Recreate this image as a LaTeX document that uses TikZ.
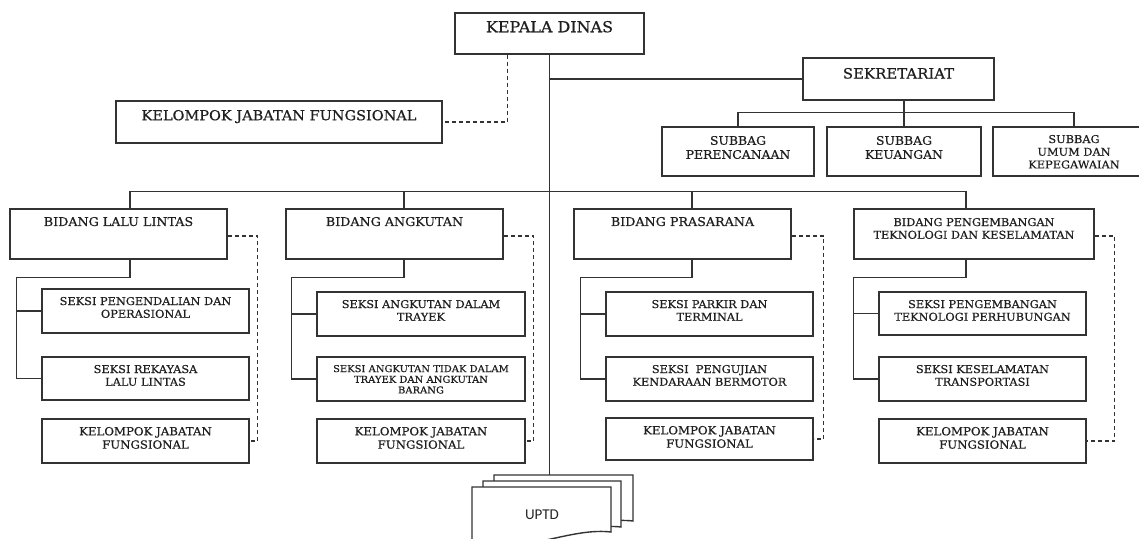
\documentclass[tikz,border=0pt]{standalone}
\usepackage{fontspec}
\setmainfont{DejaVu Serif}[FakeStretch=1.05, RawFeature={embolden=0.6}]
\newfontfamily\uptdfont{Carlito}

\begin{document}
\begin{tikzpicture}[x=1pt, y=-1pt, line width=1.4pt, draw=black!80,
	box/.style = {draw, rectangle, inner sep=0pt},
	lbl/.style = {anchor=north, inner sep=0pt, align=center, text=black!88},
	thd/.style = {font=\fontsize{15.2}{18}\selectfont},
	tbig/.style = {font=\fontsize{13.8}{17}\selectfont},
	tsek/.style = {font=\fontsize{14.2}{17}\selectfont},
	tmid/.style = {font=\fontsize{12.1}{14}\selectfont},
	tsub/.style = {font=\fontsize{11.8}{14}\selectfont},
	tsml/.style = {font=\fontsize{10.8}{12.7}\selectfont},
	tkjf/.style = {font=\fontsize{11.2}{13.3}\selectfont},
	ttny/.style = {font=\fontsize{9.5}{10.7}\selectfont},
	fnline/.style = {line width=1.1pt, dash pattern=on 4pt off 3pt}]

	\useasboundingbox (0,0) rectangle (1139,538);

	% pimpinan dan sekretariat
	\node[box, minimum width=189pt, minimum height=41pt,
	  label={[lbl, thd, yshift=-8pt]north:KEPALA DINAS}] (kd) at (549.5,33.5) {};
	\node[box, minimum width=326pt, minimum height=42pt,
	  label={[lbl, tbig, yshift=-9pt]north:KELOMPOK JABATAN FUNGSIONAL}] (kjf) at (279,122) {};
	\node[box, minimum width=191pt, minimum height=42pt,
	  label={[lbl, tsek, yshift=-10pt]north:SEKRETARIAT}] (sek) at (898.5,79) {};

	\node[box, minimum width=152pt, minimum height=49pt,
	  label={[lbl, tsub, yshift=-9pt]north:SUBBAG\\PERENCANAAN}] (sbp) at (738,151.5) {};
	\node[box, minimum width=154pt, minimum height=49pt,
	  label={[lbl, tsub, yshift=-9pt]north:SUBBAG\\KEUANGAN}] (sbk) at (904,151.5) {};
	\node[box, minimum width=162pt, minimum height=49pt,
	  label={[lbl, tsml, yshift=-8pt]north:SUBBAG\\UMUM DAN\\KEPEGAWAIAN}] (sbu) at (1074,151.5) {};

	% bidang
	\node[box, minimum width=217pt, minimum height=50pt,
	  label={[lbl, tmid, yshift=-8pt]north:BIDANG LALU LINTAS}] (bll) at (118.5,234) {};
	\node[box, minimum width=217pt, minimum height=50pt,
	  label={[lbl, tmid, yshift=-8pt]north:BIDANG ANGKUTAN}] (ba) at (394.5,234) {};
	\node[box, minimum width=217pt, minimum height=50pt,
	  label={[lbl, tmid, yshift=-8pt]north:BIDANG PRASARANA}] (bp) at (682.5,234) {};
	\node[box, minimum width=240pt, minimum height=50pt,
	  label={[lbl, tsml, yshift=-9pt]north:BIDANG PENGEMBANGAN\\TEKNOLOGI DAN KESELAMATAN}] (bpt) at (974,234) {};

	% seksi lalu lintas
	\node[box, minimum width=207pt, minimum height=44pt,
	  label={[lbl, tsml, yshift=-8pt]north:SEKSI PENGENDALIAN DAN\\OPERASIONAL}] (s11) at (145.5,311) {};
	\node[box, minimum width=207pt, minimum height=43pt,
	  label={[lbl, tsml, yshift=-8pt]north:SEKSI REKAYASA\\LALU LINTAS}] (s12) at (145.5,378.5) {};
	\node[box, minimum width=207pt, minimum height=44pt,
	  label={[lbl, tkjf, yshift=-8pt]north:KELOMPOK JABATAN\\FUNGSIONAL}] (k1) at (145.5,441) {};

	% seksi angkutan
	\node[box, minimum width=208pt, minimum height=44pt,
	  label={[lbl, tsml, yshift=-8pt]north:SEKSI ANGKUTAN DALAM\\TRAYEK}] (s21) at (421,314) {};
	\node[box, minimum width=208pt, minimum height=44pt,
	  label={[lbl, ttny, yshift=-8pt]north:SEKSI ANGKUTAN TIDAK DALAM\\TRAYEK DAN ANGKUTAN\\BARANG}] (s22) at (421,379) {};
	\node[box, minimum width=208pt, minimum height=44pt,
	  label={[lbl, tkjf, yshift=-8pt]north:KELOMPOK JABATAN\\FUNGSIONAL}] (k2) at (421,441) {};

	% seksi prasarana
	\node[box, minimum width=207pt, minimum height=44pt,
	  label={[lbl, tsml, yshift=-8pt]north:SEKSI PARKIR DAN\\TERMINAL}] (s31) at (709.5,314) {};
	\node[box, minimum width=207pt, minimum height=44pt,
	  label={[lbl, tsml, yshift=-8pt]north:SEKSI\ \ PENGUJIAN\\KENDARAAN BERMOTOR}] (s32) at (709.5,379) {};
	\node[box, minimum width=207pt, minimum height=42pt,
	  label={[lbl, tkjf, yshift=-8pt]north:KELOMPOK JABATAN\\FUNGSIONAL}] (k3) at (709.5,439) {};

	% seksi pengembangan
	\node[box, minimum width=207pt, minimum height=43pt,
	  label={[lbl, tsml, yshift=-8pt]north:SEKSI PENGEMBANGAN\\TEKNOLOGI PERHUBUNGAN}] (s41) at (982.5,313.5) {};
	\node[box, minimum width=207pt, minimum height=44pt,
	  label={[lbl, tsml, yshift=-8pt]north:SEKSI KESELAMATAN\\TRANSPORTASI}] (s42) at (982.5,379) {};
	\node[box, minimum width=207pt, minimum height=44pt,
	  label={[lbl, tkjf, yshift=-8pt]north:KELOMPOK JABATAN\\FUNGSIONAL}] (k4) at (982.5,441) {};

	% uptd
	\coordinate (uptdtop) at (549,475);
	\draw[fill=white] (494,475) -- (633,475) -- (633,521)
	  .. controls +(-35,-4) and +(69,-6) .. (494,541) -- cycle;
	\draw[fill=white] (483,481) -- (621,481) -- (621,527)
	  .. controls +(-35,-4) and +(69,-6) .. (483,547) -- cycle;
	\draw[fill=white] (472,487) -- (611,487) -- (611,532)
	  .. controls +(-35,-4) and +(69,-6) .. (472,552) -- cycle;
	\node[font=\uptdfont\fontsize{15}{18}\selectfont, text=black!85] (uptd) at (542,515) {UPTD};

	% garis komando
	\draw (kd.south) -- (kd.south |- uptdtop);
	\draw (kd.south |- sek.west) -- (sek.west);
	\draw (sek.south -| sbk.north) -- (sbk.north);
	\draw (sbp.north) -- ++(0,-14) -| (sbu.north);

	\draw ([xshift=11.5pt]bll.north) -- ++(0,-17) -| ([xshift=-8pt]bpt.north);
	\draw ([xshift=9.5pt]ba.north) -- ++(0,-17);
	\draw ([xshift=9.5pt]bp.north) -- ++(0,-17);

	\draw ([xshift=11.5pt]bll.south) -- ++(0,18) -| ([xshift=-25pt]s12.west) -- (s12.west);
	\draw ([xshift=-25pt]s11.west) -- (s11.west);
	\draw ([xshift=9.5pt]ba.south) -- ++(0,18) -| ([xshift=-25pt]s22.west) -- (s22.west);
	\draw ([xshift=-25pt]s21.west) -- (s21.west);
	\draw ([xshift=9.5pt]bp.south) -- ++(0,18) -| ([xshift=-25pt]s32.west) -- (s32.west);
	\draw ([xshift=-25pt]s31.west) -- (s31.west);
	\draw ([xshift=-8pt]bpt.south) -- ++(0,18) -| ([xshift=-25pt]s42.west) -- (s42.west);
	\draw ([xshift=-25pt]s41.west) -- (s41.west);

	% garis koordinasi
	\draw[fnline] ([xshift=-42pt]kd.south) |- (kjf.east);
	\draw[fnline] ([yshift=-2pt]bll.east) -- ++(30,0) |- (k1.east);
	\draw[fnline] ([yshift=-2pt]ba.east) -- ++(30,0) |- (k2.east);
	\draw[fnline] ([yshift=-2pt]bp.east) -- ++(32,0) |- (k3.east);
	\draw[fnline] ([yshift=-2pt]bpt.east) -- ++(20,0) |- (k4.east);

\end{tikzpicture}
\end{document}
